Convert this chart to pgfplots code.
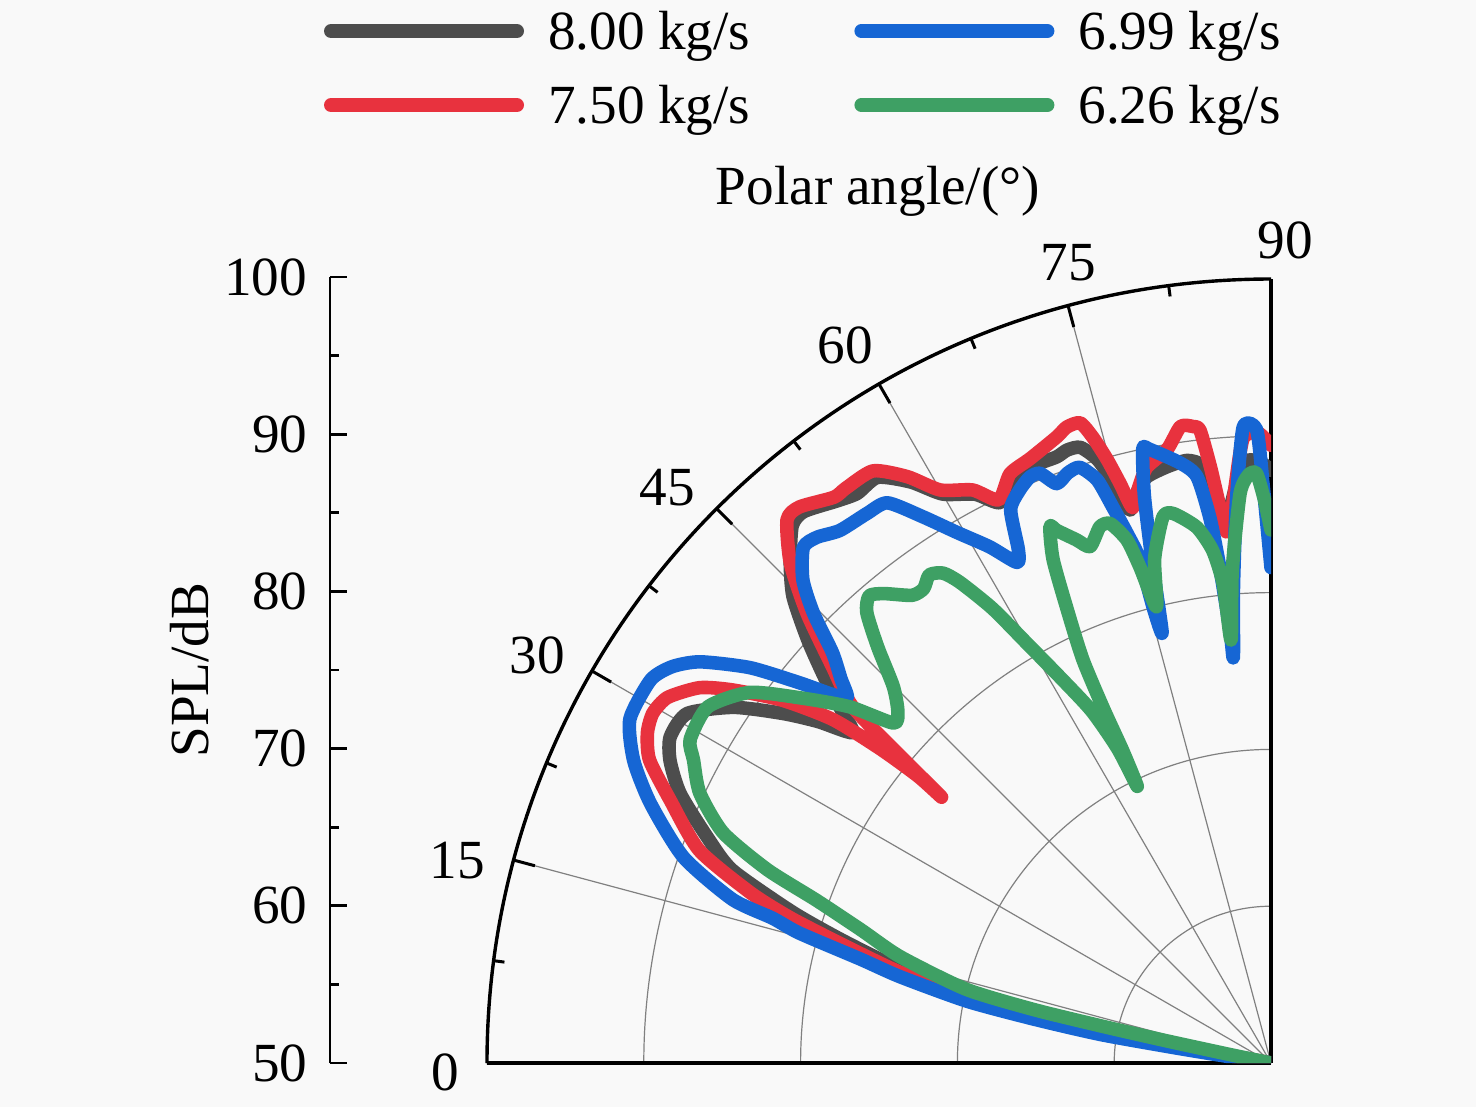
\documentclass[border=0pt]{standalone}
\usepackage{pgfplots}
\pgfplotsset{compat=1.18}
\usepackage{pgfplotstable}
\usepgfplotslibrary{polar}
\usepackage{fontspec}
\setmainfont{Liberation Serif}

\definecolor{c8}{RGB}{77,77,77}
\definecolor{c75}{RGB}{232,50,62}
\definecolor{c699}{RGB}{22,102,212}
\definecolor{c626}{RGB}{62,160,100}
\definecolor{bg}{RGB}{249,249,249}

% columns: polar angle (deg), SPL (dB)
\pgfplotstableread{
a s
0 50
10.5 52
11.0 57
11.3 61
11.9 65.5
12.8 70
14.3 74.5
16.0 78.5
17.5 82
19.7 86.5
21.8 88.7
24.5 91.4
26.7 92.9
28.5 93.6
30.9 93.4
33.5 91.1
35.6 88.3
37.0 86.2
38.3 84.0
39.5 85.6
40.8 87.6
42.4 90.0
44.3 92.6
46.2 94.3
48.3 95.9
49.7 96.1
52.3 95.3
54.0 94.9
56.1 95.0
58.2 93.6
60.0 91.9
62.5 90.9
64.2 89.7
66.1 90.7
68.3 91.0
70.5 91.0
71.6 91.2
72.8 91.1
74.0 90.0
75.0 88.0
75.7 86.4
76.8 87.4
78.0 88.2
80.1 88.6
82.1 88.8
83.5 88.3
84.3 86.2
85.0 84.3
85.8 85.5
87.3 88.3
88.8 88.4
90 87.8
}\tblA

\pgfplotstableread{
a s
0 50
10.0 52
10.5 57
10.8 61
11.4 65.5
12.3 70
13.8 74.5
15.5 78.5
16.8 82
18.1 84.9
20.4 88.9
23.6 91.8
26.0 94.1
27.9 95.0
29.5 95.3
31.2 95.0
33.3 93.6
34.7 91.8
36.6 88.8
38.1 85.5
38.8 82.0
39.1 79.0
38.9 77.0
39.6 80.5
40.4 85.0
42.1 87.7
44.1 91.2
46.1 94.2
48.3 96.4
49.7 96.5
52.3 95.6
53.5 95.6
56.1 95.5
58.2 94.0
60.0 92.2
62.5 91.2
64.2 89.9
66.1 91.1
68.3 91.5
71.1 92.2
72.2 92.6
73.4 92.6
74.1 91.5
74.8 89.9
75.4 88.2
76.0 86.5
77.0 87.6
78.2 88.8
80.4 89.7
81.9 91.0
83.0 90.9
83.6 90.6
84.2 88.2
84.7 85.8
85.2 84.0
86.0 85.5
87.4 89.8
88.8 90.2
90.0 89.4
}\tblB

\pgfplotstableread{
a s
0 50
8.5 52
9.0 56
9.5 61
10.5 65.4
11.5 69.8
13.1 74.3
14.2 77.0
15.4 81.2
16.2 83.1
16.9 85.9
19.3 89.7
22.7 92.9
25.4 95.0
28.2 96.4
31.7 96.5
33.5 95.8
35.1 94.5
37.2 91.7
38.9 88.6
40.0 86.6
40.8 85.7
41.8 86.8
43.1 88.3
44.5 90.9
45.9 92.9
47.8 94.4
49.2 94.3
51.0 93.7
53.7 93.5
55.6 93.3
57.5 91.3
59.4 89.3
61.4 87.5
63.1 85.8
63.8 86.5
64.8 89.0
66.3 89.9
67.6 90.4
68.6 90.4
69.7 89.4
71.0 89.8
72.2 89.9
73.4 88.8
74.1 86.9
74.8 85.0
75.4 83.2
75.5 80.0
75.8 78.3
76.6 82.5
77.4 87.0
78.2 90.0
78.8 89.9
81.4 88.7
82.8 87.7
83.6 85.0
84.1 81.8
84.6 77.6
84.7 76.0
85.5 80.5
86.5 86.0
87.5 90.6
88.7 90.4
89.2 87.0
90.0 81.6
}\tblC

\pgfplotstableread{
a s
0 50
11.6 52.5
12.0 57
12.3 61
12.7 65.5
13.6 70
16.0 74.6
18.0 77.5
19.7 80.8
21.0 84.4
22.8 87.9
25.3 90.3
27.7 91.6
29.1 92.4
32.3 92.5
35.4 90.8
37.8 88.0
40.2 85.2
42.0 82.4
43.3 82.7
44.9 84.0
46.6 86.5
48.1 88.6
49.3 89.3
50.5 88.8
52.5 87.6
53.8 87.5
55.0 88.0
56.2 87.6
57.1 86.5
58.5 84.0
59.8 81.0
61.3 78.1
63.0 75.2
64.0 72.3
64.2 69.6
64.6 72.0
64.7 75.0
65.0 78.4
65.8 81.7
66.6 85.0
67.6 87.0
68.1 86.6
69.6 85.6
70.7 84.9
72.3 85.9
73.4 85.9
74.6 84.6
75.2 82.7
75.9 80.0
77.0 83.0
78.8 85.5
79.9 85.6
82.1 84.5
83.5 82.9
84.3 80.7
84.6 77.1
85.5 81.5
86.9 86.4
87.9 87.6
88.6 87.6
89.3 86.0
90.0 84.0
}\tblD

\begin{document}
\fontsize{13.8}{16.5}\selectfont
\begin{tikzpicture}
\fill[bg] (0,0) rectangle (369pt,276.75pt);

% radial SPL scale on the left
\begin{axis}[
  at={(82.5pt,11pt)}, anchor=south west,
  scale only axis, width=50pt, height=196.5pt,
  xmin=0, xmax=1, ymin=50, ymax=100,
  axis x line=none, axis y line*=left,
  axis line style={line width=0.7pt},
  ytick={50,60,...,100}, minor y tick num=1,
  tick align=inside,
  major tick length=4.25pt, minor tick length=2.25pt,
  ytick style={line width=0.7pt, black},
  /pgf/number format/assume math mode=true,
  yticklabel style={inner sep=0pt, xshift=-5.5pt},
  ylabel={SPL/dB},
  ylabel style={at={(axis description cs:0,0.5)}, anchor=center, yshift=35pt},
  legend columns=2, transpose legend,
  legend style={at={(axis description cs:0,1.3366)}, anchor=north west,
    xshift=-1.5pt, draw=none, fill=none, inner sep=0pt, outer sep=0pt,
    row sep=9.2pt,
    nodes={inner sep=0pt, text height=9.3pt, text depth=0pt},
    /tikz/every even column/.append style={column sep=26pt}},
  legend image code/.code={%
    \path[draw=none] (0pt,0pt) -- (56pt,0pt);
    \draw[#1, line width=3.5pt, line cap=round] (1.75pt,0pt) -- (48.25pt,0pt);},
]
\addlegendimage{c8}\addlegendentry{8.00 kg/s}
\addlegendimage{c75}\addlegendentry{7.50 kg/s}
\addlegendimage{c699}\addlegendentry{6.99 kg/s}
\addlegendimage{c626}\addlegendentry{6.26 kg/s}
\end{axis}

\begin{polaraxis}[
  at={(317.75pt,11pt)}, anchor=origin,
  scale only axis, width=392pt, height=392pt,
  xmin=90, xmax=180, ymin=0, ymax=50,
  x filter/.expression={180-x},
  y filter/.expression={y-50},
  xtick={90,105,...,180},
  minor xtick={97.5,112.5,127.5,142.5,157.5,172.5},
  xticklabels={},
  ytick={10,20,30,40}, yticklabels={},
  ytick style={draw=none},
  grid=major,
  major grid style={gray, line width=0.3pt},
  axis line style={line width=0.85pt, black},
  tick align=outside,
  xtick style={line width=0.75pt, black},
  major tick length=5.5pt, minor tick length=2.7pt,
  every axis plot/.append style={no marks, line width=3.4pt, line join=round, line cap=round, smooth, tension=0.4},
]
\addplot[c8] table[x=a, y=s] {\tblA};
\addplot[c75] table[x=a, y=s] {\tblB};
\addplot[c699] table[x=a, y=s] {\tblC};
\addplot[c626] table[x=a, y=s] {\tblD};
\end{polaraxis}

\begin{scope}[every node/.style={inner sep=0pt, text height=9.3pt, text depth=0pt, anchor=center}]
\node at (111.25pt,8.75pt) {0};
\node at (114.25pt,61.75pt) {15};
\node at (134.25pt,113pt) {30};
\node at (166.75pt,155pt) {45};
\node at (211.25pt,190.5pt) {60};
\node at (267pt,211.25pt) {75};
\node at (321.25pt,216.75pt) {90};
\end{scope}
\node[inner sep=0pt] at (219.5pt,229pt) {Polar angle/(°)};

\pgfresetboundingbox
\path[use as bounding box] (0,0) rectangle (369pt,276.75pt);
\end{tikzpicture}
\end{document}
